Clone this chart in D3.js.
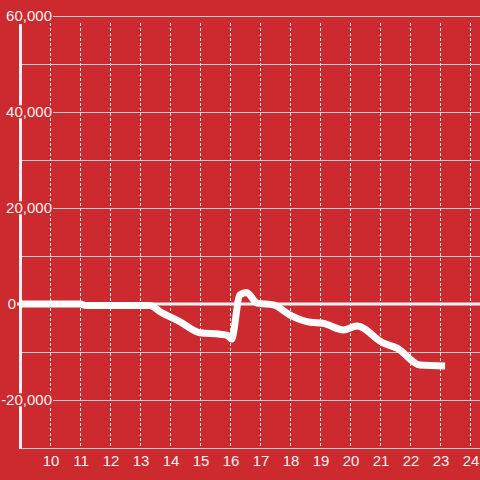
<!DOCTYPE html>
<html>
<head>
<meta charset="utf-8">
<script src="https://cdn.jsdelivr.net/npm/d3@7"></script>
<style>
  html, body { margin: 0; padding: 0; background: #cd2a2f; }
  svg { display: block; font-family: "Liberation Sans", Arial, sans-serif; }
</style>
</head>
<body>
<div id="container"></div>
<script>
const width = 480, height = 480;
const bg = "#cd2a2f";
const ink = "#f2f2f2";

// --- Data ---
const hours = [9, 11, 11.2, 13.33, 13.67, 14.33, 15, 15.67, 15.9, 16.05, 16.33, 16.55, 16.9, 17.45, 18, 18.67, 19.1, 19.78, 20.23, 21.1, 21.57, 22.33, 23.17];
const values = [0, 0, -300, -300, -1600, -3700, -6000, -6300, -6500, -7300, 1900, 2400, 200, -200, -2300, -3800, -4000, -5400, -4600, -8100, -9200, -12700, -12900];
const xTicks = [10, 11, 12, 13, 14, 15, 16, 17, 18, 19, 20, 21, 22, 23, 24];
const yTicks = [60000, 40000, 20000, 0, -20000];
const yGrid = [60000, 50000, 40000, 30000, 20000, 10000, -10000, -20000, -30000];

const svg = d3.select("#container")
  .append("svg").attr("width", width).attr("height", height);
svg.append("rect").attr("width", width).attr("height", height).attr("fill", bg);

// --- Scales ---
const x = d3.scaleLinear().domain([9, 24.333]).range([20, 480]);
const y = d3.scaleLinear().domain([-30000, 60000]).range([448, 16]);

// --- Vertical dashed grid ---
svg.append("g").selectAll("line").data(xTicks).join("line")
  .attr("x1", (d) => x(d)).attr("x2", (d) => x(d))
  .attr("y1", 23).attr("y2", 448)
  .attr("stroke", "#e6e6e6")
  .attr("stroke-width", 1)
  .attr("stroke-dasharray", "3,2")
  .attr("shape-rendering", "crispEdges");

// --- Horizontal grid ---
svg.append("g").selectAll("line").data(yGrid).join("line")
  .attr("x1", x(9)).attr("x2", width)
  .attr("y1", (d) => y(d)).attr("y2", (d) => y(d))
  .attr("stroke", "#cfcfcf")
  .attr("stroke-width", 1)
  .attr("shape-rendering", "crispEdges");

// --- Y axis line ---
svg.append("line")
  .attr("x1", 20.5).attr("x2", 20.5)
  .attr("y1", 24).attr("y2", 449)
  .attr("stroke", ink).attr("stroke-width", 3);

// --- Zero line ---
svg.append("line")
  .attr("x1", 17).attr("x2", width)
  .attr("y1", y(0)).attr("y2", y(0))
  .attr("stroke", ink).attr("stroke-width", 3);

// --- Y labels with background boxes ---
const fmt = d3.format(",");
const yl = svg.append("g").selectAll("g").data(yTicks).join("g");
yl.append("text")
  .attr("x", (d) => (d === 0 ? 16 : 52))
  .attr("y", (d) => y(d))
  .attr("dy", "0.35em")
  .attr("text-anchor", "end")
  .attr("fill", ink)
  .style("font-size", "15px")
  .text((d) => fmt(d).replace("−", "-"));
yl.each(function () {
  const tx = d3.select(this).select("text");
  const b = tx.node().getBBox();
  d3.select(this).insert("rect", "text")
    .attr("x", b.x).attr("y", b.y + 2)
    .attr("width", b.width + 1).attr("height", b.height - 4)
    .attr("fill", bg);
});

// --- X labels ---
svg.append("g").selectAll("text").data(xTicks).join("text")
  .attr("x", (d) => x(d) + 1)
  .attr("y", 466)
  .attr("text-anchor", "middle")
  .attr("fill", ink)
  .style("font-size", "15px")
  .text((d) => d);

// --- Series line ---
const pts = hours.map((h, i) => [h, values[i]]);
svg.append("path")
  .datum(pts)
  .attr("fill", "none")
  .attr("stroke", "#ffffff")
  .attr("stroke-width", 7)
  .attr("stroke-linejoin", "round")
  .attr("d", d3.line().x((d) => x(d[0])).y((d) => y(d[1])).curve(d3.curveMonotoneX));
</script>
</body>
</html>
